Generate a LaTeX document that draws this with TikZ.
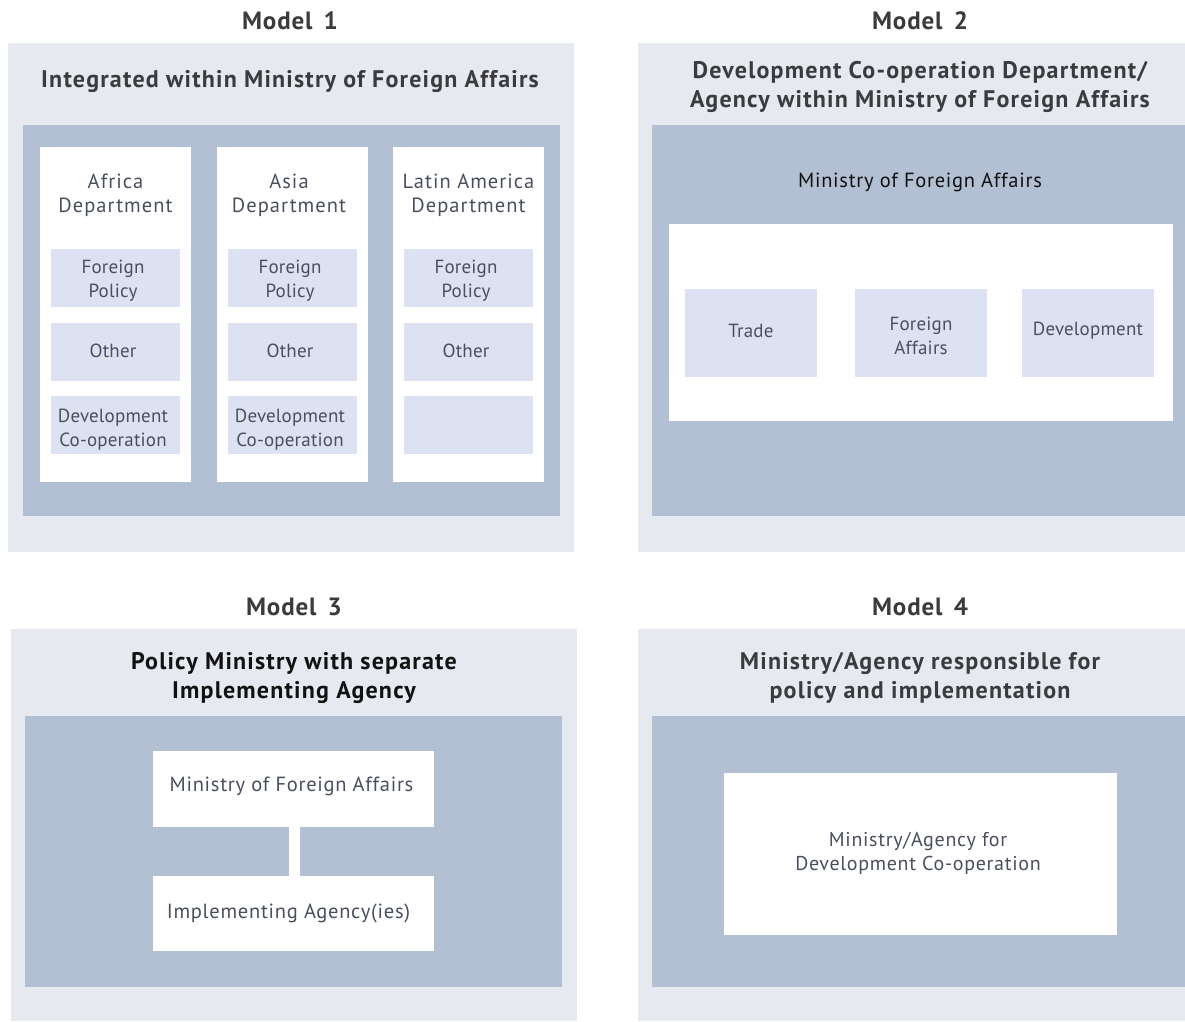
\documentclass[tikz,border=0pt]{standalone}
\usepackage{fontspec}
\setmainfont{PT Sans}
\newfontfamily\trackedwide[LetterSpace=5]{PT Sans}
\newfontfamily\trackedmid[LetterSpace=3.5]{PT Sans}
\newfontfamily\trackedslight[LetterSpace=1]{PT Sans}
\begin{document}
\definecolor{panelgrey}{HTML}{E6E9EF}
\definecolor{panelblue}{HTML}{B3C0D4}
\definecolor{unitfill}{HTML}{DCE2F1}
\definecolor{bodytext}{HTML}{4A4F5E}
\definecolor{headtext}{HTML}{3B3B3D}
\definecolor{darktext}{HTML}{111111}
\begin{tikzpicture}[x=1pt,y=-1pt,
  every node/.style={inner sep=0pt, outer sep=0pt},
  modeltitle/.style={font=\trackedmid\fontsize{25}{28}\selectfont\bfseries, text=headtext},
  heading/.style={font=\trackedwide\fontsize{24}{29}\selectfont\bfseries, text=headtext, align=center},
  outerpanel/.style={fill=panelgrey, draw=none, rectangle},
  innerpanel/.style={fill=panelblue, draw=none, rectangle},
  whitebox/.style={fill=white, draw=none, rectangle, text=bodytext, align=center,
    font=\trackedmid\fontsize{20.5}{24}\selectfont},
  bodylabel/.style={text=bodytext, font=\trackedmid\fontsize{20.5}{24}\selectfont},
  unitbox/.style={fill=unitfill, draw=none, rectangle, text=bodytext, align=center,
    minimum width=129, minimum height=58, font=\trackedslight\fontsize{19}{24}\selectfont},
  unittext/.style={text=bodytext, align=center, font=\trackedslight\fontsize{19}{24}\selectfont},
  deptlabel/.style={text=bodytext, align=center, font=\trackedwide\fontsize{20.5}{24}\selectfont},
  wideunit/.style={fill=unitfill, draw=none, rectangle, text=bodytext, align=center,
    minimum width=132, minimum height=88, font=\trackedslight\fontsize{19}{24}\selectfont},
]
\useasboundingbox (0,0) rectangle (1185,1021);
\fill[white] (0,0) rectangle (1185,1021);

% ---------------- Model 1 ----------------
\node[modeltitle] (m1title) at (290,21) {Model\hspace{4pt} 1};
\node[outerpanel, minimum width=566, minimum height=509] (m1outer) at (291,297.5) {};
\node[heading] (m1head) at (290,82) {Integrated within Ministry of Foreign Affairs};
\node[innerpanel, minimum width=537, minimum height=391] (m1inner) at (291.5,320.5) {};

\node[whitebox, minimum width=151, minimum height=335] (africa) at (115.5,314.5) {};
\node[whitebox, minimum width=151, minimum height=335] (asia) at (292.5,314.5) {};
\node[whitebox, minimum width=151, minimum height=335] (latam) at (468.5,314.5) {};

\node[deptlabel] (africalbl) at (115.5,195) {Africa\\Department};
\node[deptlabel] (asialbl) at (289,195) {Asia\\Department};
\node[deptlabel] (latamlbl) at (468.5,195) {Latin America\\Department};

% sub-units of each regional department
\node[unitbox] (africafp) at (115.5,278) {};
\node[unitbox] (africaot) at (115.5,352) {};
\node[unitbox] (africadc) at (115.5,425) {};
\node[unitbox] (asiafp) at (292.5,278) {};
\node[unitbox] (asiaot) at (292.5,352) {};
\node[unitbox] (asiadc) at (292.5,425) {};
\node[unitbox] (latamfp) at (468.5,278) {};
\node[unitbox] (latamot) at (468.5,352) {};
\node[unitbox] (latamdc) at (468.5,425) {};

\node[unittext] (africafpl) at (113,281) {Foreign\\Policy};
\node[unittext] (africaotl) at (113,351) {Other};
\node[unittext] (africadcl) at (113,430) {Development\\Co-operation};
\node[unittext] (asiafpl) at (290,281) {Foreign\\Policy};
\node[unittext] (asiaotl) at (290,351) {Other};
\node[unittext] (asiadcl) at (290,430) {Development\\Co-operation};
\node[unittext] (latamfpl) at (466,281) {Foreign\\Policy};
\node[unittext] (latamotl) at (466,351) {Other};

% ---------------- Model 2 ----------------
\node[modeltitle] (m2title) at (920,21) {Model\hspace{4pt} 2};
\node[outerpanel, minimum width=547, minimum height=509] (m2outer) at (911.5,297.5) {};
\node[heading] (m2head) at (920,86.5) {Development Co-operation Department/\\Agency within Ministry of Foreign Affairs};
\node[innerpanel, minimum width=533, minimum height=391] (m2inner) at (918.5,320.5) {};
\node[bodylabel, text=darktext] (m2mfa) at (920,182) {Ministry of Foreign Affairs};
\node[whitebox, minimum width=504, minimum height=197] (m2white) at (921,322.5) {};
\node[wideunit] (trade) at (751,333) {};
\node[wideunit] (foreign) at (921,333) {};
\node[wideunit] (devel) at (1088,333) {};
\node[unittext] (tradel) at (751,331) {Trade};
\node[unittext] (foreignl) at (921,336) {Foreign\\Affairs};
\node[unittext] (devell) at (1088,331) {Development};

% ---------------- Model 3 ----------------
\node[modeltitle] (m3title) at (294,607) {Model\hspace{4pt} 3};
\node[outerpanel, minimum width=566, minimum height=392] (m3outer) at (294,825) {};
\node[heading, text=darktext] (m3head) at (294,678) {Policy Ministry with separate\\Implementing Agency};
\node[innerpanel, minimum width=537, minimum height=271] (m3inner) at (293.5,851.5) {};
\node[whitebox, minimum width=281, minimum height=76] (m3mfa) at (293.5,789) {};
\node[whitebox, minimum width=281, minimum height=75] (m3agency) at (293.5,913.5) {};
\draw[white, line width=11pt] ([xshift=1pt]m3mfa.south) -- ([xshift=1pt]m3agency.north);
\node[bodylabel] (m3mfalbl) at (291.5,786) {Ministry of Foreign Affairs};
\node[bodylabel] (m3agencylbl) at (288.5,913) {Implementing Agency(ies)};

% ---------------- Model 4 ----------------
\node[modeltitle] (m4title) at (920,607) {Model\hspace{4pt} 4};
\node[outerpanel, minimum width=547, minimum height=392] (m4outer) at (911.5,825) {};
\node[heading] (m4head) at (920,678) {Ministry/Agency responsible for\\policy and implementation};
\node[innerpanel, minimum width=533, minimum height=271] (m4inner) at (918.5,851.5) {};
\node[whitebox, minimum width=393, minimum height=162] (m4box) at (920.5,854) {};
\node[bodylabel, align=center, font=\trackedmid\fontsize{20}{24}\selectfont] (m4boxl) at (918,853) {Ministry/Agency for\\Development Co-operation};
\end{tikzpicture}
\end{document}
